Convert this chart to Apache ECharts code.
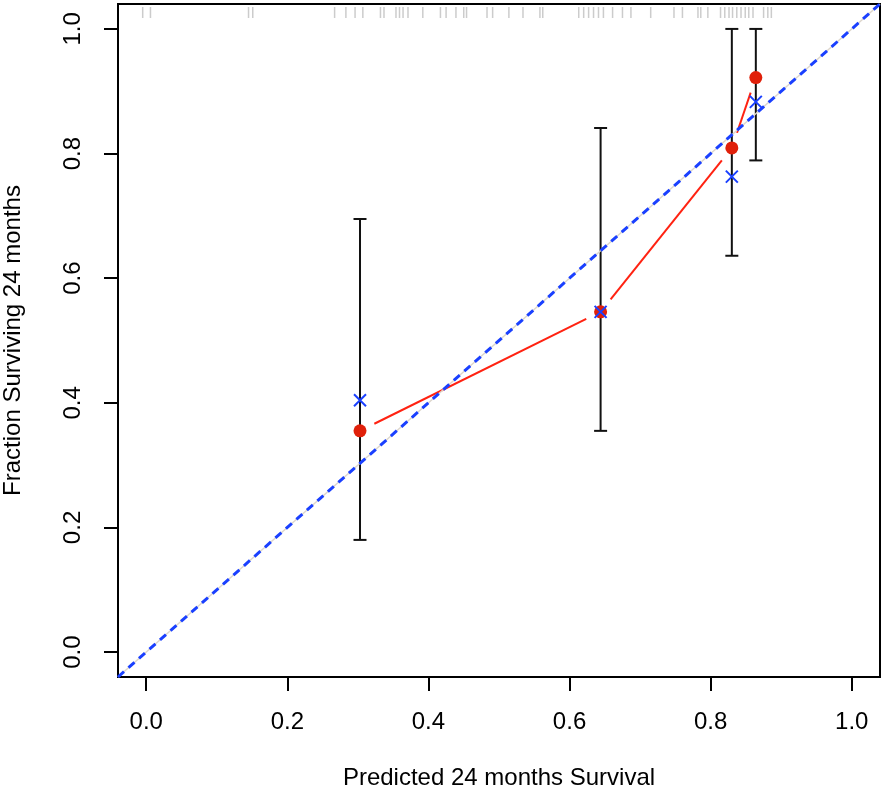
<!DOCTYPE html>
<html><head><meta charset="utf-8">
<script src="https://cdn.jsdelivr.net/npm/echarts@6/dist/echarts.min.js"></script>
<style>html,body{margin:0;padding:0;background:#fff}#c{width:886px;height:796px}</style>
</head><body><div id="c"></div>
<script>
// ---- data ----
const groupX    = [0.303, 0.644, 0.830, 0.864];
const observed  = [0.355, 0.546, 0.809, 0.922];
const corrected = [0.404, 0.546, 0.763, 0.883];
const lower     = [0.180, 0.355, 0.636, 0.789];
const upper     = [0.695, 0.841, 1.000, 1.000];
const rugValues = [-0.005, 0.006, 0.145, 0.151, 0.267, 0.283, 0.296, 0.307, 0.332, 0.337,
  0.354, 0.359, 0.364, 0.371, 0.392, 0.417, 0.425, 0.439, 0.450, 0.454, 0.483, 0.491,
  0.514, 0.534, 0.558, 0.562, 0.613, 0.620, 0.627, 0.634, 0.641, 0.648, 0.661, 0.675,
  0.687, 0.715, 0.748, 0.760, 0.782, 0.786, 0.796, 0.814, 0.820, 0.826, 0.831, 0.837,
  0.843, 0.849, 0.854, 0.860, 0.875, 0.881, 0.886];
const tickValues = [0, 0.2, 0.4, 0.6, 0.8, 1.0];
const axisRange  = [-0.04, 1.04];
const idealLine  = [[-0.04, -0.04], [1.04, 1.04]];
const xTitle = 'Predicted 24 months Survival';
const yTitle = 'Fraction Surviving 24 months';

// ---- build series data ----
const errData = groupX.map((x, i) => [x, lower[i], upper[i]]);
const obsData = groupX.map((x, i) => [x, observed[i]]);
const corData = groupX.map((x, i) => [x, corrected[i]]);
const segData = [];
for (let i = 0; i < groupX.length - 1; i++) segData.push([groupX[i], observed[i], groupX[i + 1], observed[i + 1]]);

const FONT = 'Liberation Sans';
const FS = 24;
const axisCommon = {
  type: 'value', min: axisRange[0], max: axisRange[1],
  axisLine: { show: true, onZero: false, lineStyle: { color: '#000', width: 2 } },
  axisTick: { show: true, customValues: tickValues, length: 14, inside: false, lineStyle: { color: '#000', width: 2 } },
  splitLine: { show: false },
  nameLocation: 'middle',
  nameTextStyle: { fontFamily: FONT, fontSize: FS, color: '#000' }
};

const chart = echarts.init(document.getElementById('c'), null, { renderer: 'canvas' });
chart.setOption({
  animation: false,
  backgroundColor: '#fff',
  grid: { left: 118, top: 4, width: 762, height: 673, containLabel: false, outerBoundsMode: 'none',
    show: true, borderColor: '#000', borderWidth: 2, backgroundColor: 'transparent' },
  xAxis: Object.assign({}, axisCommon, {
    name: xTitle, nameGap: 89,
    axisLabel: { customValues: tickValues, formatter: v => v.toFixed(1), margin: 33, fontFamily: FONT, fontSize: FS, color: '#000' }
  }),
  yAxis: Object.assign({}, axisCommon, {
    name: yTitle, nameGap: 93,
    axisLabel: { customValues: tickValues, formatter: v => v.toFixed(1), rotate: 90, margin: 33, fontFamily: FONT, fontSize: FS, color: '#000' }
  }),
  series: [
    { // rug of predicted values along the top
      type: 'custom', data: rugValues.map(v => [v]), encode: { x: 0 }, silent: true,
      renderItem: function (params, api) {
        const p = api.coord([api.value(0), axisRange[1]]);
        return { type: 'line', shape: { x1: p[0], y1: p[1] + 3, x2: p[0], y2: p[1] + 14 },
          style: { stroke: 'rgba(110,110,110,0.35)', lineWidth: 1.5 } };
      }
    },
    { // faint ideal line under dashes
      type: 'line', data: idealLine, symbol: 'none', silent: true,
      lineStyle: { color: '#ddd6cc', width: 1.5 }
    },
    { // error bars
      type: 'custom', data: errData, encode: { x: 0, y: [1, 2] }, silent: true,
      renderItem: function (params, api) {
        const x = api.value(0);
        const a = api.coord([x, api.value(1)]), b = api.coord([x, api.value(2)]);
        const cw = 6.5, st = { stroke: '#111', lineWidth: 2 };
        return { type: 'group', children: [
          { type: 'line', shape: { x1: a[0], y1: a[1], x2: b[0], y2: b[1] }, style: st },
          { type: 'line', shape: { x1: a[0] - cw, y1: a[1], x2: a[0] + cw, y2: a[1] }, style: st },
          { type: 'line', shape: { x1: b[0] - cw, y1: b[1], x2: b[0] + cw, y2: b[1] }, style: st }
        ] };
      }
    },
    { // red line with gaps at points (type "b")
      type: 'custom', data: segData, encode: { x: [0, 2], y: [1, 3] }, silent: true,
      renderItem: function (params, api) {
        const p1 = api.coord([api.value(0), api.value(1)]);
        const p2 = api.coord([api.value(2), api.value(3)]);
        const dx = p2[0] - p1[0], dy = p2[1] - p1[1];
        const L = Math.sqrt(dx * dx + dy * dy), g = 16;
        const ux = dx / L, uy = dy / L;
        return { type: 'line', shape: { x1: p1[0] + ux * g, y1: p1[1] + uy * g, x2: p2[0] - ux * g, y2: p2[1] - uy * g },
          style: { stroke: '#ff2211', lineWidth: 2 } };
      }
    },
    { // ideal diagonal, dashed blue
      type: 'line', data: idealLine, symbol: 'none', silent: true,
      lineStyle: { color: '#1a40ff', width: 3, type: [8, 6] }
    },
    { // observed
      type: 'scatter', data: obsData, symbol: 'circle', symbolSize: 13,
      itemStyle: { color: '#e0200a', opacity: 1 }
    },
    { // bias-corrected
      type: 'scatter', data: corData, symbol: 'path://M0,0L10,10M10,0L0,10', symbolSize: 12,
      itemStyle: { color: 'none', borderColor: '#1a40ff', borderWidth: 2, opacity: 1 }
    }
  ]
});
</script>
</body></html>
